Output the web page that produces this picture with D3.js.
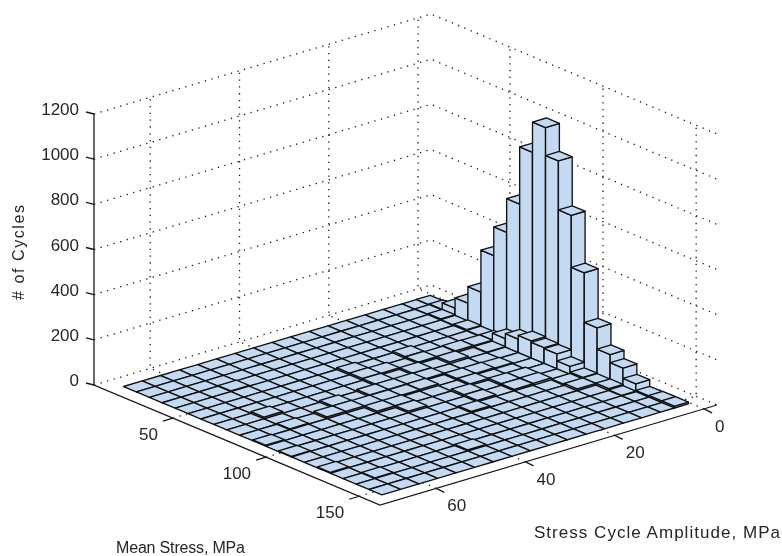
<!DOCTYPE html>
<html>
<head>
<meta charset="utf-8">
<style>
  html, body { margin: 0; padding: 0; background: #fff; }
  svg { display: block; filter: blur(0.35px); }
  text { font-family: "Liberation Sans", Arial, sans-serif; fill: #262626; }
</style>
<script src="https://cdnjs.cloudflare.com/ajax/libs/d3/7.8.5/d3.min.js"></script>
</head>
<body>
<script>
// tick labels
const meanTicks = [50, 100, 150]
const ampTicks = [0, 20, 40, 60]
const countTicks = [0, 200, 400, 600, 800, 1000, 1200]

// bin edges of the histogram
const meanEdges = [15.3, 22.2, 29.2, 36.1, 43.0, 50.0, 56.9, 63.8, 70.8, 77.7, 84.7, 91.6, 98.5, 105.5, 112.4, 119.4, 126.3, 133.2, 140.2, 147.1, 154.0]
const ampEdges = [0.5, 3.6, 6.8, 11, 15.1, 19.3, 23.4, 27.6, 31.8, 35.9, 40.1, 44.2, 48.4, 52.6, 56.7, 60.9, 65, 69.2]

// one row per amplitude bin, one value per mean stress bin
const counts = [
  [1, 5, 34, 80, 153, 339, 466, 615, 868, 1002, 878, 661, 431, 211, 117, 81, 35, 6, 8, 8],
  [0, 2, 5, 2, 6, 3, 8, 38, 60, 76, 70, 66, 35, 10, 8, 9, 3, 0, 0, 0],
  [0, 0, 0, 0, 0, 0, 7, 3, 0, 0, 0, 0, 0, 4, 8, 0, 0, 0, 0, 0],
  [0, 0, 0, 0, 0, 0, 8, 0, 0, 4, 0, 8, 9, 0, 0, 0, 0, 0, 0, 0],
  [0, 0, 0, 0, 0, 0, 5, 8, 0, 6, 0, 8, 7, 0, 0, 0, 0, 0, 0, 0],
  [0, 0, 0, 0, 0, 8, 7, 0, 0, 6, 7, 0, 0, 0, 0, 0, 0, 0, 0, 0],
  [0, 0, 0, 0, 0, 0, 0, 7, 6, 0, 0, 8, 7, 0, 0, 0, 0, 0, 0, 0],
  [0, 0, 0, 0, 0, 0, 7, 0, 8, 8, 0, 0, 0, 6, 0, 0, 0, 0, 0, 0],
  [0, 0, 0, 0, 0, 8, 8, 7, 8, 6, 0, 0, 0, 0, 0, 0, 0, 0, 0, 0],
  [0, 0, 0, 0, 0, 0, 0, 0, 8, 6, 8, 8, 0, 0, 0, 0, 0, 0, 0, 0],
  [0, 0, 0, 0, 0, 0, 0, 0, 0, 7, 8, 0, 0, 0, 0, 0, 0, 5, 0, 0],
  [0, 0, 0, 0, 0, 0, 0, 0, 8, 8, 0, 0, 0, 0, 0, 0, 0, 0, 0, 0],
  [0, 0, 0, 0, 0, 0, 0, 0, 0, 8, 0, 0, 0, 0, 0, 0, 0, 0, 0, 0],
  [0, 0, 0, 3, 0, 0, 0, 0, 0, 0, 0, 0, 0, 0, 0, 0, 0, 0, 0, 0],
  [0, 0, 0, 0, 0, 0, 0, 8, 0, 4, 0, 0, 0, 0, 0, 0, 0, 0, 0, 0],
  [0, 0, 0, 0, 0, 0, 0, 0, 0, 0, 0, 0, 0, 0, 0, 0, 0, 3, 0, 0],
  [0, 0, 0, 0, 0, 0, 0, 0, 0, 0, 4, 0, 3, 0, 0, 4, 0, 0, 0, 0]
]

const width = 782
const height = 556

const svg = d3.select("body").append("svg")
  .attr("width", width)
  .attr("height", height)

// box axes, 0..1 along each floor edge
const escalaMean = d3.scaleLinear().domain([7.6, 161.2]).range([0, 1])
const escalaAmp = d3.scaleLinear().domain([72.6, -2.9]).range([0, 1])
const escalaZ = d3.scaleLinear().domain([0, 1200]).range([0, 271])

const meanExtent = escalaMean.domain()
const ampExtent = escalaAmp.domain()
const zTop = escalaZ.domain()[1]

// corner at the left of the box and the two floor edge vectors
const origen = [94, 385]
const vecMean = [286, 120]
const vecAmp = [337, -100]

const proj = (m, a, z) => {
  const u = escalaMean(m), v = escalaAmp(a)
  return [
    origen[0] + vecMean[0] * u + vecAmp[0] * v,
    origen[1] + vecMean[1] * u + vecAmp[1] * v - escalaZ(z)
  ]
}

const linea = d3.line()

const grid = svg.append("g")
  .attr("fill", "none")
  .attr("stroke", "#1a1a1a")
  .attr("stroke-width", 1.3)
  .attr("stroke-dasharray", "1.3 5.5")

const dotted = (puntos) => grid.append("path").attr("d", linea(puntos))

// floor and wall lines, count levels
countTicks.forEach(c => {
  dotted([proj(meanExtent[0], ampExtent[0], c), proj(meanExtent[0], ampExtent[1], c), proj(meanExtent[1], ampExtent[1], c)])
})
// amplitude grid: on the floor and up the left wall
ampTicks.forEach(a => {
  dotted([proj(meanExtent[1], a, 0), proj(meanExtent[0], a, 0), proj(meanExtent[0], a, zTop)])
})
// mean stress grid: on the floor and up the right wall
meanTicks.forEach(m => {
  dotted([proj(m, ampExtent[0], 0), proj(m, ampExtent[1], 0), proj(m, ampExtent[1], zTop)])
})

// the bars, painted from the back corner to the front
const celdas = []
counts.forEach((fila, j) => fila.forEach((c, i) => celdas.push({ i, j, c })))
celdas.sort((p, q) => (p.i + p.j) - (q.i + q.j))

const bars = svg.append("g")
  .attr("fill", "#c3daf2")
  .attr("stroke", "#111")
  .attr("stroke-width", 1.35)
  .attr("stroke-linejoin", "round")

const cerrado = d3.line().curve(d3.curveLinearClosed)

const barra = bars.selectAll("g").data(celdas).enter().append("g")

// side facing the amplitude axis
barra.filter(d => d.c > 0).append("path").attr("d", d => {
  const m0 = meanEdges[d.i], m1 = meanEdges[d.i + 1], a1 = ampEdges[d.j + 1]
  return cerrado([proj(m0, a1, 0), proj(m1, a1, 0), proj(m1, a1, d.c), proj(m0, a1, d.c)])
})
// side facing the mean stress axis
barra.filter(d => d.c > 0).append("path").attr("d", d => {
  const m1 = meanEdges[d.i + 1], a0 = ampEdges[d.j], a1 = ampEdges[d.j + 1]
  return cerrado([proj(m1, a1, 0), proj(m1, a0, 0), proj(m1, a0, d.c), proj(m1, a1, d.c)])
})
// top
barra.append("path").attr("d", d => {
  const m0 = meanEdges[d.i], m1 = meanEdges[d.i + 1], a0 = ampEdges[d.j], a1 = ampEdges[d.j + 1]
  return cerrado([proj(m0, a0, d.c), proj(m1, a0, d.c), proj(m1, a1, d.c), proj(m0, a1, d.c)])
})

// solid axes
const ejes = svg.append("g")
  .attr("fill", "none")
  .attr("stroke", "#1a1a1a")
  .attr("stroke-width", 1.3)

ejes.append("path").attr("d", linea([
  proj(meanExtent[0], ampExtent[0], zTop),
  proj(meanExtent[0], ampExtent[0], 0),
  proj(meanExtent[1], ampExtent[0], 0),
  proj(meanExtent[1], ampExtent[1], 0)
]))

const labels = svg.append("g").attr("font-size", 17)

countTicks.forEach(c => {
  const p = proj(meanExtent[0], ampExtent[0], c)
  ejes.append("path").attr("d", linea([p, [p[0] - 8, p[1] - 2]]))
  labels.append("text").attr("x", p[0] - 15).attr("y", p[1] + 1)
    .attr("text-anchor", "end").text(c)
})

meanTicks.forEach(m => {
  const p = proj(m, ampExtent[0], 0)
  ejes.append("path").attr("d", linea([p, [p[0] - 10, p[1] + 3]]))
  labels.append("text").attr("x", p[0] - 15).attr("y", p[1] + 22)
    .attr("text-anchor", "end").text(m)
})

ampTicks.forEach(a => {
  const p = proj(meanExtent[1], a, 0)
  ejes.append("path").attr("d", linea([p, [p[0] + 8, p[1] + 4]]))
  labels.append("text").attr("x", p[0] + 11).attr("y", p[1] + 23).text(a)
})

// axis titles
svg.append("text")
  .attr("transform", "translate(24,300) rotate(-90)")
  .attr("font-size", 16)
  .attr("textLength", 95)
  .text("# of Cycles")

svg.append("text")
  .attr("x", 116).attr("y", 553)
  .attr("font-size", 16)
  .attr("textLength", 129)
  .text("Mean Stress, MPa")

svg.append("text")
  .attr("x", 534).attr("y", 538)
  .attr("font-size", 17)
  .attr("textLength", 246)
  .text("Stress Cycle Amplitude, MPa")
</script>
</body>
</html>
